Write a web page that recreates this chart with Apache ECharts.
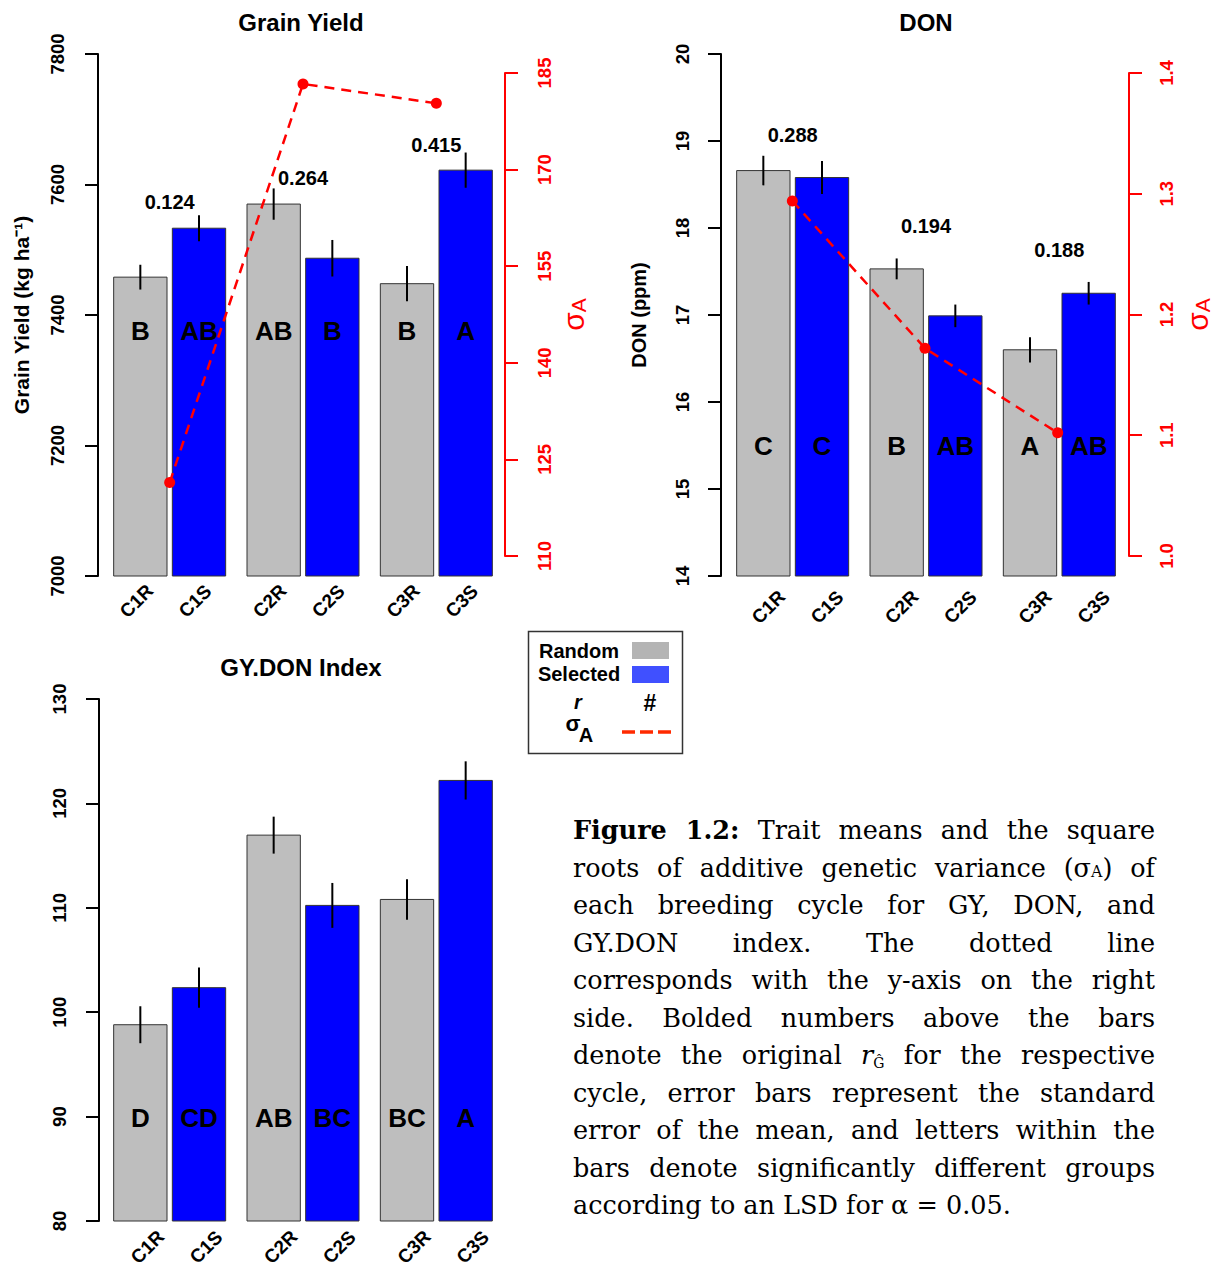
<!DOCTYPE html>
<html>
<head>
<meta charset="utf-8">
<script src="https://cdn.jsdelivr.net/npm/echarts@6/dist/echarts.min.js"></script>
<style>
html, body { margin: 0; padding: 0; background: #fff; }
#chart { position: absolute; left: 0; top: 0; width: 1214px; height: 1269px; }
#caption { position: absolute; left: 573px; top: 812px; width: 582px; font-family: "DejaVu Serif", "Liberation Serif", serif; font-size: 25.5px; line-height: 37.5px; color: #000; }
#caption .ln { text-align: justify; text-align-last: justify; height: 37.5px; overflow: visible; }
#caption .last { text-align: left; text-align-last: left; }
#caption .sm { font-size: 0.62em; }
#caption .sub { font-size: 0.55em; position: relative; top: 0.3em; }
</style>
</head>
<body>
<div id="chart"></div>
<div id="caption">
<div class="ln"><b>Figure 1.2:</b> Trait means and the square</div>
<div class="ln">roots of additive genetic variance (σ<span class="sm">A</span>) of</div>
<div class="ln">each breeding cycle for GY, DON, and</div>
<div class="ln">GY.DON index. The dotted line</div>
<div class="ln">corresponds with the y-axis on the right</div>
<div class="ln">side. Bolded numbers above the bars</div>
<div class="ln">denote the original <i>r</i><span class="sub">Ĝ</span> for the respective</div>
<div class="ln">cycle, error bars represent the standard</div>
<div class="ln">error of the mean, and letters within the</div>
<div class="ln">bars denote significantly different groups</div>
<div class="ln last">according to an LSD for α = 0.05.</div>
</div>
<script>
// ---------------- data ----------------
const groups = ['C1', 'C2', 'C3'];
const barNames = ['C1R', 'C1S', 'C2R', 'C2S', 'C3R', 'C3S'];
const barGroup = [0, 0, 1, 1, 2, 2];
const barType = [0, 1, 0, 1, 0, 1]; // 0 = Random, 1 = Selected

const gyMean = [7458, 7533, 7570, 7487, 7448, 7622];
const gySE = [19, 20, 24, 28, 27, 27];
const gyLetters = ['B', 'AB', 'AB', 'B', 'B', 'A'];
const gySigma = [121.4, 183.3, 180.3];
const gyR = ['0.124', '0.264', '0.415'];

const donMean = [18.66, 18.58, 17.53, 16.99, 16.60, 17.25];
const donSE = [0.17, 0.19, 0.12, 0.13, 0.145, 0.13];
const donLetters = ['C', 'C', 'B', 'AB', 'A', 'AB'];
const donSigma = [1.294, 1.172, 1.102];
const donR = ['0.288', '0.194', '0.188'];

const idxMean = [98.8, 102.35, 116.96, 110.23, 110.8, 122.2];
const idxSE = [1.77, 1.92, 1.77, 2.15, 1.94, 1.83];
const idxLetters = ['D', 'CD', 'AB', 'BC', 'BC', 'A'];

const gyTicks = [7000, 7200, 7400, 7600, 7800];
const gySigmaTicks = [110, 125, 140, 155, 170, 185];
const donTicks = [14, 15, 16, 17, 18, 19, 20];
const donSigmaTicks = [1.0, 1.1, 1.2, 1.3, 1.4];
const idxTicks = [80, 90, 100, 110, 120, 130];

// ---------------- style ----------------
const FONT = '"Liberation Sans", Arial, Helvetica, sans-serif';
const GRAY = '#bebebe', BLUE = '#0000ff', RED = '#ff0000';

function barRender(cfg) {
  return function (params, api) {
    const i = params.dataIndex;
    const g = api.value(0), m = api.value(1), se = api.value(2), t = api.value(3);
    const top = api.coord([g, m]);
    const base = api.coord([g, cfg.min])[1];
    const bw = api.size([1, 0])[0];
    const w = bw * 0.4, gap = bw * 0.04;
    const cx = top[0] + (t === 0 ? -1 : 1) * (w + gap) / 2;
    const hi = api.coord([g, m + se])[1], lo = api.coord([g, m - se])[1];
    const ly = api.coord([g, cfg.letterAt])[1];
    return {
      type: 'group',
      children: [
        { type: 'rect', shape: { x: cx - w / 2, y: top[1], width: w, height: base - top[1] },
          style: { fill: t === 0 ? GRAY : BLUE, stroke: '#333', lineWidth: 1 } },
        { type: 'line', shape: { x1: cx, y1: hi, x2: cx, y2: lo },
          style: { stroke: '#000', lineWidth: 2 } },
        { type: 'text', x: cx, y: ly,
          style: { text: cfg.letters[i], fill: '#000', font: 'bold 26px ' + FONT,
                   textAlign: 'center', textVerticalAlign: 'middle', align: 'center', verticalAlign: 'middle' } },
        { type: 'text', x: cx + cfg.tickDx, y: base + cfg.tickDy, rotation: Math.PI / 4,
          style: { text: barNames[i], fill: '#000', font: 'bold 19px ' + FONT,
                   textAlign: 'center', textVerticalAlign: 'middle', align: 'center', verticalAlign: 'middle' } }
      ]
    };
  };
}

function rRender(labels, offsets) {
  return function (params, api) {
    const j = params.dataIndex;
    const p = api.coord([api.value(0), api.value(1)]);
    return { type: 'text', x: p[0], y: p[1] - offsets[j],
      style: { text: labels[j], fill: '#000', font: 'bold 20px ' + FONT,
               textAlign: 'center', textVerticalAlign: 'middle', align: 'center', verticalAlign: 'middle' } };
  };
}

function barData(mean, se) {
  return barNames.map((n, i) => [barGroup[i], mean[i], se[i], barType[i]]);
}
function rData(mean, se) {
  return groups.map((g, j) => [j, Math.max(mean[2 * j] + se[2 * j], mean[2 * j + 1] + se[2 * j + 1])]);
}

function leftAxis(gridIndex, min, max, ticks, offset, margin, name, nameGap, nameSize) {
  return {
    type: 'value', gridIndex, min, max, position: 'left', offset,
    axisLine: { show: true, onZero: false, lineStyle: { color: '#000', width: 2 } },
    axisTick: { show: true, length: 13, customValues: ticks, lineStyle: { color: '#000', width: 2 } },
    axisLabel: { customValues: ticks, rotate: 90, margin, color: '#000', fontSize: 18.5, fontWeight: 'bold', fontFamily: FONT,
                 formatter: v => String(v) },
    splitLine: { show: false },
    name, nameLocation: 'middle', nameGap,
    nameTextStyle: { color: '#000', fontSize: nameSize, fontWeight: 'bold', fontFamily: FONT }
  };
}
function rightAxis(gridIndex, min, max, ticks, offset, margin, nameGap, fmt) {
  return {
    type: 'value', gridIndex, min, max, position: 'right', offset,
    axisLine: { show: true, onZero: false, lineStyle: { color: RED, width: 2 } },
    axisTick: { show: true, length: 13, customValues: ticks, lineStyle: { color: RED, width: 2 } },
    axisLabel: { customValues: ticks, rotate: 90, margin, color: RED, fontSize: 18.5, fontWeight: 'bold', fontFamily: FONT, formatter: fmt },
    splitLine: { show: false },
    name: '{s|σ}{a|A}', nameLocation: 'middle', nameGap,
    nameTextStyle: { color: RED, fontFamily: FONT, fontSize: 28,
      rich: { s: { fontSize: 30, color: RED, fontFamily: FONT, verticalAlign: 'middle' },
              a: { fontSize: 21, color: RED, fontFamily: FONT, verticalAlign: 'bottom', padding: [10, 0, 0, 0] } } }
  };
}
function catAxis(gridIndex) {
  return { type: 'category', gridIndex, data: groups, show: false };
}
function sigmaLine(xi, yi, data) {
  return { type: 'line', xAxisIndex: xi, yAxisIndex: yi, data, symbol: 'circle', symbolSize: 11,
    itemStyle: { color: RED }, lineStyle: { color: RED, width: 2.5, type: [10, 7] }, z: 5 };
}

const titleStyle = (text, x, y) => ({ type: 'text', x, y,
  style: { text, fill: '#000', font: 'bold 24px ' + FONT, textAlign: 'center', textVerticalAlign: 'middle', align: 'center', verticalAlign: 'middle' } });

const legendText = (text, x, y, font) => ({ type: 'text', x, y,
  style: { text, fill: '#000', font, textAlign: 'center', textVerticalAlign: 'middle', align: 'center', verticalAlign: 'middle' } });

const chart = echarts.init(document.getElementById('chart'), null, { renderer: 'svg' });
chart.setOption({
  animation: false,
  backgroundColor: '#fff',
  grid: [
    { left: 103, top: 54, width: 400, height: 522 },   // GY bars
    { left: 103, top: 73, width: 400, height: 483 },   // GY sigma
    { left: 726, top: 54, width: 400, height: 522 },   // DON bars
    { left: 726, top: 73, width: 400, height: 483 },   // DON sigma
    { left: 103, top: 699, width: 400, height: 522 }   // index bars
  ],
  xAxis: [catAxis(0), catAxis(1), catAxis(2), catAxis(3), catAxis(4)],
  yAxis: [
    leftAxis(0, 7000, 7800, gyTicks, 5, 31, 'Grain Yield (kg ha⁻¹)', 66, 21),
    rightAxis(1, 110, 185, gySigmaTicks, 2, 30, 53, v => String(v)),
    leftAxis(2, 14, 20, donTicks, 5, 29, 'DON (ppm)', 72, 20),
    rightAxis(3, 1.0, 1.4, donSigmaTicks, 5, 28, 53, v => v.toFixed(1)),
    leftAxis(4, 80, 130, idxTicks, 4, 30, '', 0, 20)
  ],
  graphic: [
    titleStyle('Grain Yield', 301, 22),
    titleStyle('DON', 926, 22),
    titleStyle('GY.DON Index', 301, 667),
    { type: 'group', children: [
      { type: 'rect', shape: { x: 528.5, y: 631.5, width: 154, height: 122 }, style: { fill: '#fff', stroke: '#333', lineWidth: 1.5 } },
      legendText('Random', 579, 651, 'bold 20px ' + FONT),
      legendText('Selected', 579, 674, 'bold 20px ' + FONT),
      legendText('r', 578, 702, 'italic bold 20px ' + FONT),
      legendText('σ', 573, 723, 'bold 22px ' + FONT),
      legendText('A', 586, 735, 'bold 20px ' + FONT),
      legendText('#', 650, 703, 'bold 23px ' + FONT),
      { type: 'rect', shape: { x: 632, y: 642, width: 37, height: 17 }, style: { fill: '#b4b4b4' } },
      { type: 'rect', shape: { x: 632, y: 666, width: 37, height: 17 }, style: { fill: '#4050ff' } },
      { type: 'line', shape: { x1: 622, y1: 732, x2: 671, y2: 732 }, style: { stroke: '#ff2a00', lineWidth: 3.5, lineDash: [13, 5] } }
    ] }
  ],
  series: [
    { type: 'custom', xAxisIndex: 0, yAxisIndex: 0, clip: false, data: barData(gyMean, gySE),
      renderItem: barRender({ min: 7000, letterAt: 7375, letters: gyLetters, tickDx: -4, tickDy: 25 }) },
    { type: 'custom', xAxisIndex: 0, yAxisIndex: 0, clip: false, data: rData(gyMean, gySE),
      renderItem: rRender(gyR, [13, 10, 8]) },
    sigmaLine(1, 1, gySigma),
    { type: 'custom', xAxisIndex: 2, yAxisIndex: 2, clip: false, data: barData(donMean, donSE),
      renderItem: barRender({ min: 14, letterAt: 15.49, letters: donLetters, tickDx: 5, tickDy: 31 }) },
    { type: 'custom', xAxisIndex: 2, yAxisIndex: 2, clip: false, data: rData(donMean, donSE),
      renderItem: rRender(donR, [21, 32, 32]) },
    sigmaLine(3, 3, donSigma),
    { type: 'custom', xAxisIndex: 4, yAxisIndex: 4, clip: false, data: barData(idxMean, idxSE),
      renderItem: barRender({ min: 80, letterAt: 89.9, letters: idxLetters, tickDx: 7, tickDy: 26 }) }
  ]
});
</script>
</body>
</html>
